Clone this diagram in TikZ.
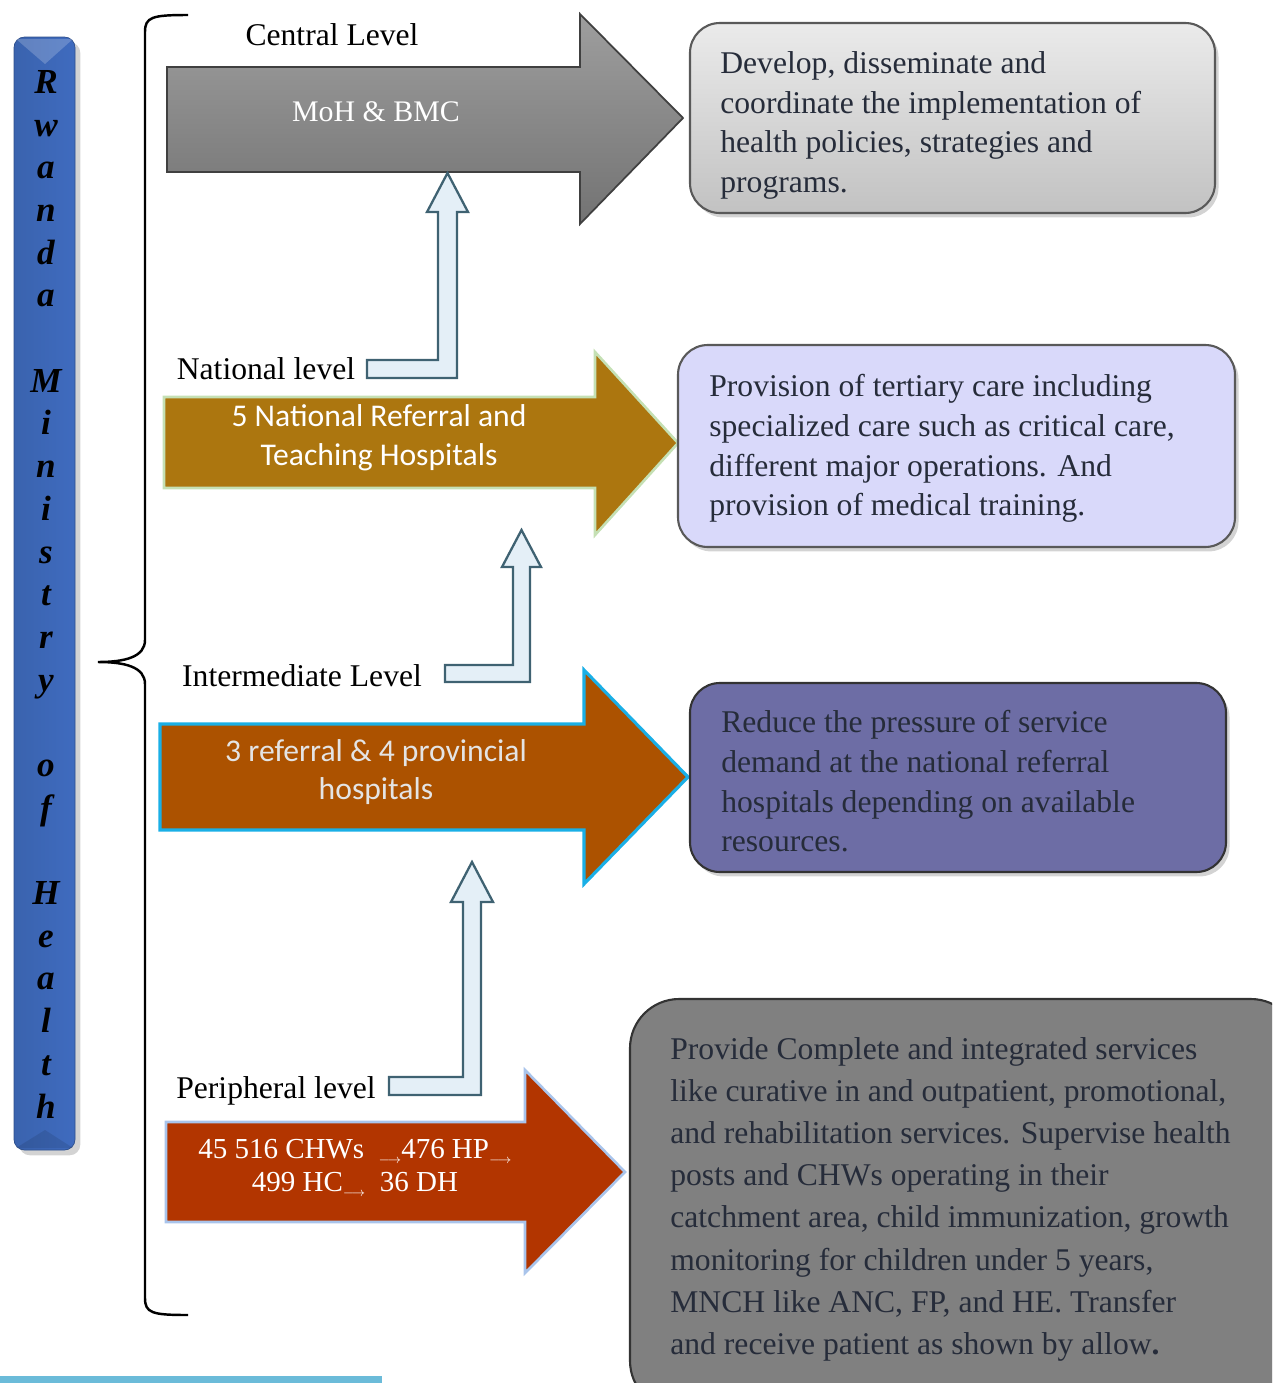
\documentclass[tikz,border=0pt]{standalone}
\usepackage{fontspec}
\setmainfont{Liberation Serif}
\newfontfamily\calibri{Carlito}
\usepackage{tikz}
\usetikzlibrary{shadows}
\definecolor{barleft}{HTML}{3A63AE}
\definecolor{barmid}{HTML}{4F80D3}
\definecolor{barright}{HTML}{3F6BBF}
\definecolor{natfill}{HTML}{AC760F}
\definecolor{natline}{HTML}{C5E0B4}
\definecolor{interfill}{HTML}{AC5200}
\definecolor{interline}{HTML}{1AAFE6}
\definecolor{intertext}{HTML}{E4E4E4}
\definecolor{perfill}{HTML}{B23500}
\definecolor{perline}{HTML}{A9C4EB}
\definecolor{elbowfill}{HTML}{E4EFF7}
\definecolor{elbowline}{HTML}{3F6272}
\definecolor{desctext}{HTML}{262C3A}
\definecolor{lavender}{HTML}{D9D9FA}
\definecolor{slate}{HTML}{6D6DA5}
\definecolor{bottombar}{HTML}{6BBBD9}
\newcommand{\lowarr}{\raisebox{-0.35ex}{\fontsize{7}{7}\selectfont$\longrightarrow$}}

\begin{document}
\begin{tikzpicture}[x=0.02cm,y=-0.02cm,
  lvl/.style={anchor=base,inner sep=0pt,font=\fontsize{18}{22}\selectfont},
  bigtxt/.style={align=center,text=white},
  elbow/.style={fill=elbowfill,draw=elbowline,line width=1.3pt},
  box/.style={rounded corners=17pt,line width=1.2pt,drop shadow={opacity=0.35,shadow xshift=2pt,shadow yshift=-2.5pt}},
  descr/.style={anchor=north west,align=left,inner sep=0pt,text=desctext,font=\fontsize{18}{22.6}\selectfont}]
\clip (0,0) rectangle (1272,1383);
%Боковая полоса с названием
\path[rounded corners=6pt,left color=barleft,middle color=barmid,right color=barright,draw=barleft!80!black,
  drop shadow={opacity=0.35,shadow xshift=3pt,shadow yshift=-3pt}] (14,37) rectangle (75,1150);
\fill[white,opacity=0.2] (16,39) -- (73,39) -- (45,64) -- cycle;
\fill[black,opacity=0.1] (16,1148) -- (73,1148) -- (45,1130) -- cycle;
\node[anchor=north,align=center,inner sep=0pt,font=\bfseries\itshape\fontsize{20}{24.3}\selectfont] (rwanda) at (46,70)
  {R\\w\\a\\n\\d\\a\\[24.3pt]M\\i\\n\\i\\s\\t\\r\\y\\[24.3pt]o\\f\\[24.3pt]H\\e\\a\\l\\t\\h};
%Фигурная скобка
\draw[line width=1.4pt] (188,15) .. controls (152,15) and (145,17) .. (145,32) -- (145,640)
  .. controls (145,657) and (125,662) .. (98,662) .. controls (125,662) and (145,667) .. (145,684)
  -- (145,1298) .. controls (145,1313) and (152,1315) .. (188,1315);
%Большие стрелки уровней
\path[draw=black!75,line width=1pt,top color=black!38,bottom color=black!55]
  (167,67) -- (580,67) -- (580,14) -- (683,118) -- (580,224) -- (580,172) -- (167,172) -- cycle;
\path[draw=natline,line width=1.5pt,fill=natfill]
  (164,397) -- (595,397) -- (595,352) -- (678,443) -- (595,535) -- (595,488) -- (164,488) -- cycle;
\path[draw=interline,line width=1.8pt,fill=interfill]
  (160,724) -- (584,724) -- (584,670) -- (688,777) -- (584,884) -- (584,830) -- (160,830) -- cycle;
\path[draw=perline,line width=1.5pt,fill=perfill]
  (166,1122) -- (525,1122) -- (525,1070) -- (625,1172) -- (525,1273) -- (525,1222) -- (166,1222) -- cycle;
%Подписи уровней
\node[lvl] (central) at (332,45) {Central Level};
\node[lvl] (national) at (266,379) {National level};
\node[lvl] (inter) at (302,686) {Intermediate Level};
\node[lvl] (periph) at (276,1098) {Peripheral level};
%Текст в стрелках
\node[bigtxt,font=\fontsize{17}{20}\selectfont] (moh) at (376,112) {MoH \& BMC};
\node[bigtxt,font=\calibri\fontsize{18}{22}\selectfont] (nrth) at (379,438) {5 National Referral and\\Teaching Hospitals};
\node[bigtxt,text=intertext,font=\calibri\fontsize{18}{22}\selectfont] (rph) at (376,772) {3 referral \& 4 provincial\\hospitals};
\node[bigtxt,font=\fontsize{16.5}{19}\selectfont] (chw) at (355,1168) {45 516 CHWs \ \lowarr476 HP\lowarr\\499 HC\lowarr\ \ 36 DH};
%Угловые стрелки вверх
\path[elbow] (367,360) -- (438,360) -- (438,212) -- (427,212) -- (447.5,173) -- (468,212) -- (457,212) -- (457,378) -- (367,378) -- cycle;
\path[elbow] (445,665) -- (513,665) -- (513,567) -- (502,567) -- (521.5,530) -- (541,567) -- (530,567) -- (530,682) -- (445,682) -- cycle;
\path[elbow] (389,1077) -- (463,1077) -- (463,902) -- (451,902) -- (472,862) -- (493,902) -- (481,902) -- (481,1095) -- (389,1095) -- cycle;
%Блоки с описанием функций
\path[box,top color=black!8,bottom color=black!24,draw=black!65] (690,23) rectangle (1215,213);
\path[box,fill=lavender,draw=black!65] (678,345) rectangle (1235,547);
\path[box,fill=slate,draw=black!80] (690,683) rectangle (1226,872);
\path[box,rounded corners=28pt,fill=black!50,draw=black!80] (630,999) rectangle (1300,1410);
\node[descr] (dev) at (720,51) {Develop, disseminate and\\coordinate the implementation of\\health policies, strategies and\\programs.};
\node[descr] (tert) at (709,374) {Provision of tertiary care including\\specialized care such as critical care,\\different major operations. And\\provision of medical training.};
\node[descr] (press) at (721,710) {Reduce the pressure of service\\demand at the national referral\\hospitals depending on available\\resources.};
\node[descr,font=\fontsize{18}{24}\selectfont] (serv) at (670,1037) {Provide Complete and integrated services\\like curative in and outpatient, promotional,\\and rehabilitation services. Supervise health\\posts and CHWs operating in their\\catchment area, child immunization, growth\\monitoring for children under 5 years,\\MNCH like ANC, FP, and HE. Transfer\\and receive patient as shown by allow{\bfseries .}};
%Полоса внизу
\fill[bottombar] (0,1376) rectangle (382,1383);
\end{tikzpicture}
\end{document}
